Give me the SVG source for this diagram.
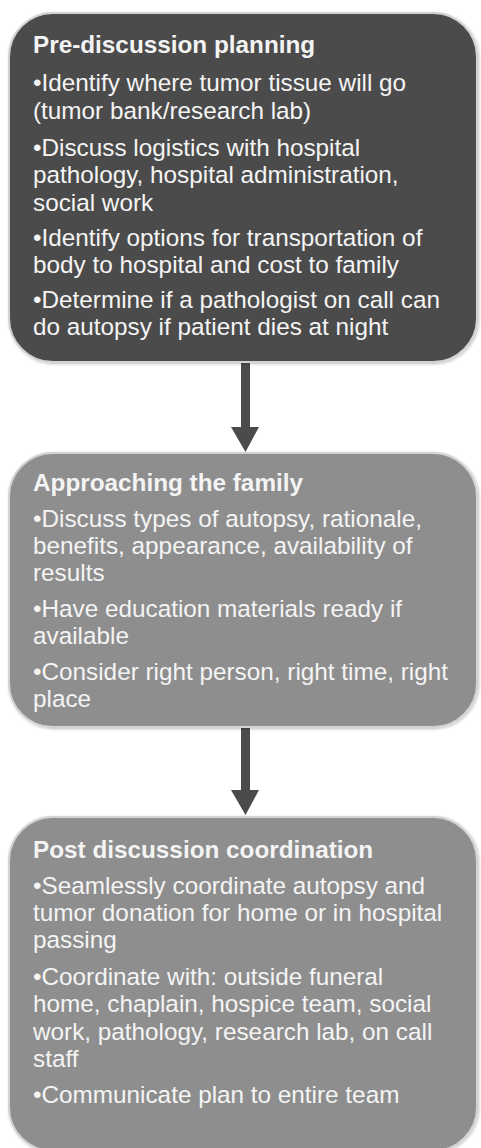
<svg xmlns="http://www.w3.org/2000/svg" width="481" height="1148" viewBox="0 0 481 1148">
  <defs>
    <style>
      .box { stroke: #d2d2d2; stroke-width: 2; }
      .dark { fill: #4b4b4b; }
      .mid { fill: #8e8e8e; }
      .t { font-family: "Liberation Sans", Arial, sans-serif; font-size: 24.3px; fill: #f4f4f4; }
      .h { font-weight: bold; }
      .arrow { fill: #4b4b4b; }
    </style>
    <filter id="sh" x="-5%" y="-5%" width="110%" height="110%">
      <feGaussianBlur in="SourceAlpha" stdDeviation="1.5"/>
      <feOffset dx="0.5" dy="0.5" result="b"/>
      <feComponentTransfer><feFuncA type="linear" slope="0.25"/></feComponentTransfer>
      <feMerge><feMergeNode/><feMergeNode in="SourceGraphic"/></feMerge>
    </filter>
  </defs>
  <rect width="481" height="1148" fill="#ffffff"/>

  <g id="connectors">
    <g id="arrow1">
      <rect class="arrow" x="241" y="362" width="9" height="66"/>
      <polygon class="arrow" points="231,427 259,427 245.5,452"/>
    </g>
    <g id="arrow2">
      <rect class="arrow" x="241" y="727" width="9" height="64"/>
      <polygon class="arrow" points="231,790 259,790 245.5,815"/>
    </g>
  </g>

  <g id="node-pre-discussion">
    <rect class="box dark" filter="url(#sh)" x="9" y="13" width="468" height="349" rx="44" ry="44"/>
    <text class="t h" x="33" y="53">Pre-discussion planning</text>
    <text class="t" x="33" y="91">•Identify where tumor tissue will go</text>
    <text class="t" x="33" y="119">(tumor bank/research lab)</text>
    <text class="t" x="33" y="156">•Discuss logistics with hospital</text>
    <text class="t" x="33" y="183">pathology, hospital administration,</text>
    <text class="t" x="33" y="211">social work</text>
    <text class="t" x="33" y="246">•Identify options for transportation of</text>
    <text class="t" x="33" y="273">body to hospital and cost to family</text>
    <text class="t" x="33" y="308">•Determine if a pathologist on call can</text>
    <text class="t" x="33" y="335">do autopsy if patient dies at night</text>
  </g>

  <g id="node-approaching">
    <rect class="box mid" filter="url(#sh)" x="9" y="453" width="468" height="274" rx="44" ry="44"/>
    <text class="t h" x="33" y="491">Approaching the family</text>
    <text class="t" x="33" y="527">•Discuss types of autopsy, rationale,</text>
    <text class="t" x="33" y="554">benefits, appearance, availability of</text>
    <text class="t" x="33" y="581">results</text>
    <text class="t" x="33" y="617">•Have education materials ready if</text>
    <text class="t" x="33" y="644">available</text>
    <text class="t" x="33" y="680">•Consider right person, right time, right</text>
    <text class="t" x="33" y="707">place</text>
  </g>

  <g id="node-post-discussion">
    <rect class="box mid" filter="url(#sh)" x="9" y="817" width="468" height="334" rx="44" ry="44"/>
    <text class="t h" x="33" y="858">Post discussion coordination</text>
    <text class="t" x="33" y="894">•Seamlessly coordinate autopsy and</text>
    <text class="t" x="33" y="921">tumor donation for home or in hospital</text>
    <text class="t" x="33" y="948">passing</text>
    <text class="t" x="33" y="985">•Coordinate with: outside funeral</text>
    <text class="t" x="33" y="1012">home, chaplain, hospice team, social</text>
    <text class="t" x="33" y="1040">work, pathology, research lab, on call</text>
    <text class="t" x="33" y="1067">staff</text>
    <text class="t" x="33" y="1103">•Communicate plan to entire team</text>
  </g>
</svg>
